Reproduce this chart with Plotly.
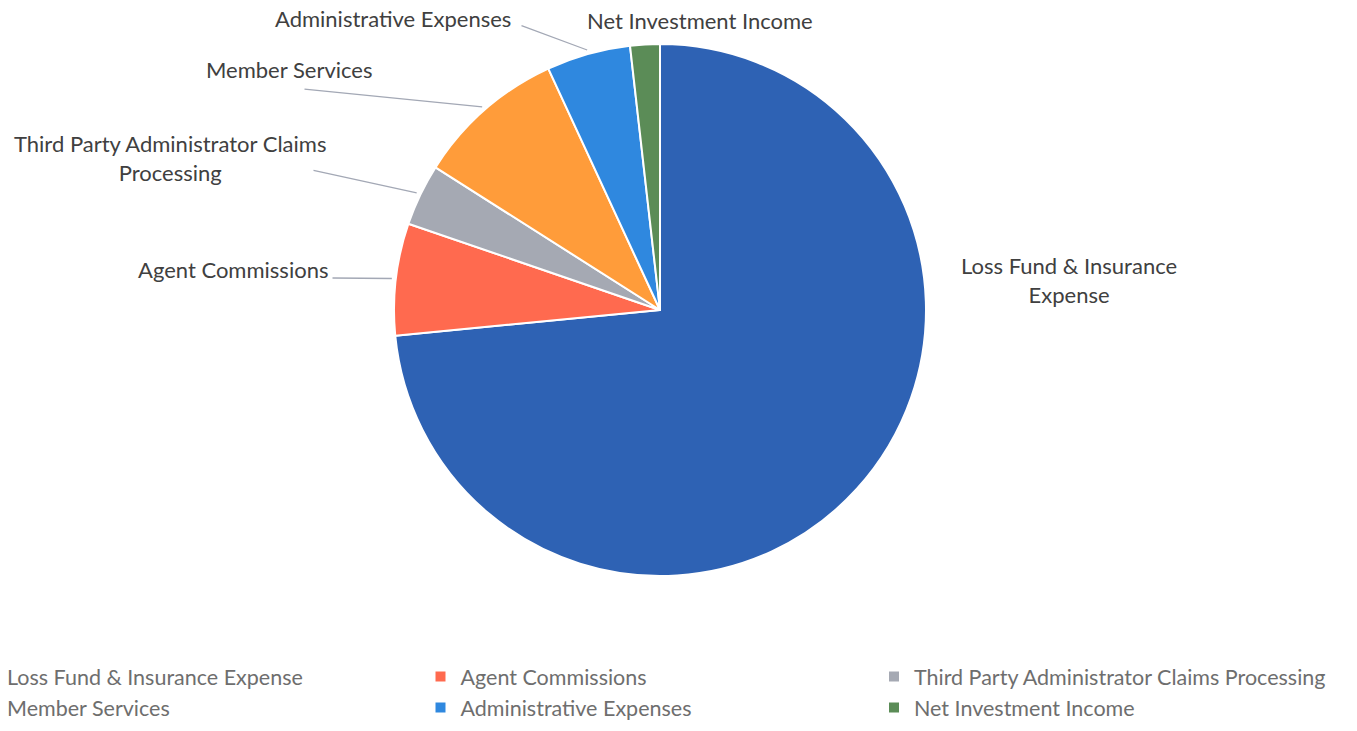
import math
import plotly.graph_objects as go

# ---- data ----
labels = ["Loss Fund & Insurance Expense", "Agent Commissions",
          "Third Party Administrator Claims Processing", "Member Services",
          "Administrative Expenses", "Net Investment Income"]
values = [73.5, 6.8, 3.75, 9.1, 5.1, 1.8]
colors = ["#2E62B4", "#FF6A4F", "#A5A9B3", "#FF9C3A", "#2F88DF", "#5B8C57"]
slice_label_text = ["Loss Fund & Insurance<br>Expense", "Agent Commissions",
                    "Third Party Administrator Claims<br>Processing", "Member Services",
                    "Administrative Expenses", "Net Investment Income"]

# ---- layout constants (pixels) ----
W, H = 1357, 731
MB = 75                      # bottom margin holding the legend
HP = H - MB                  # plot-area height
CX, CY, R = 660, 310, 266
FONT = "Lato"
LABEL_COLOR = "#404040"
LEGEND_COLOR = "#6E6E6E"

# label placement: (x, y, xanchor) in pixels
label_pos = [(1069, 280, "center"), (330, 269, "right"), (170, 158, "center"),
             (374, 69, "right"), (513, 18, "right"), (700, 21, "center")]
# leader line tails (pixels); None = no leader line
line_tail = [None, (331, 278), (312, 170), (303, 89), (520, 25), None]


def px_x(x):
    return x / W


def px_y(y):
    return 1 - y / HP


fig = go.Figure(go.Pie(
    labels=labels, values=values, sort=False, direction="clockwise", rotation=0,
    marker=dict(colors=colors, line=dict(color="white", width=2)),
    textinfo="none", hoverinfo="label+percent",
    domain=dict(x=[px_x(CX - R), px_x(CX + R)], y=[px_y(CY + R), px_y(CY - R)]),
))

annotations = []
total = sum(values)
cum = 0.0
for i, v in enumerate(values):
    theta = math.radians((cum + v / 2) / total * 360)
    cum += v
    lx, ly, xa = label_pos[i]
    annotations.append(dict(
        x=px_x(lx), y=px_y(ly), xref="paper", yref="paper", xanchor=xa, yanchor="middle",
        text=slice_label_text[i], showarrow=False, align="center",
        font=dict(family=FONT, size=22, color=LABEL_COLOR)))
    if line_tail[i] is not None:
        tx = CX + (R + 4) * math.sin(theta)
        ty = CY - (R + 4) * math.cos(theta)
        annotations.append(dict(
            x=px_x(tx), y=px_y(ty), xref="paper", yref="paper", text="",
            showarrow=True, arrowhead=0, arrowwidth=1.3, arrowcolor="#A3A8B5",
            ax=line_tail[i][0] - tx, ay=line_tail[i][1] - ty, standoff=0, startstandoff=0))

fig.update_layout(
    width=W, height=H, margin=dict(l=0, r=0, t=0, b=MB, autoexpand=False),
    paper_bgcolor="white", plot_bgcolor="white",
    annotations=annotations,
    showlegend=True,
    legend=dict(orientation="h", x=-33 / W, y=0.0, xanchor="left", yanchor="top",
                entrywidth=453.5 / W, entrywidthmode="fraction",
                font=dict(family=FONT, size=21.5, color=LEGEND_COLOR)),
)

fig.write_html("out.html")
